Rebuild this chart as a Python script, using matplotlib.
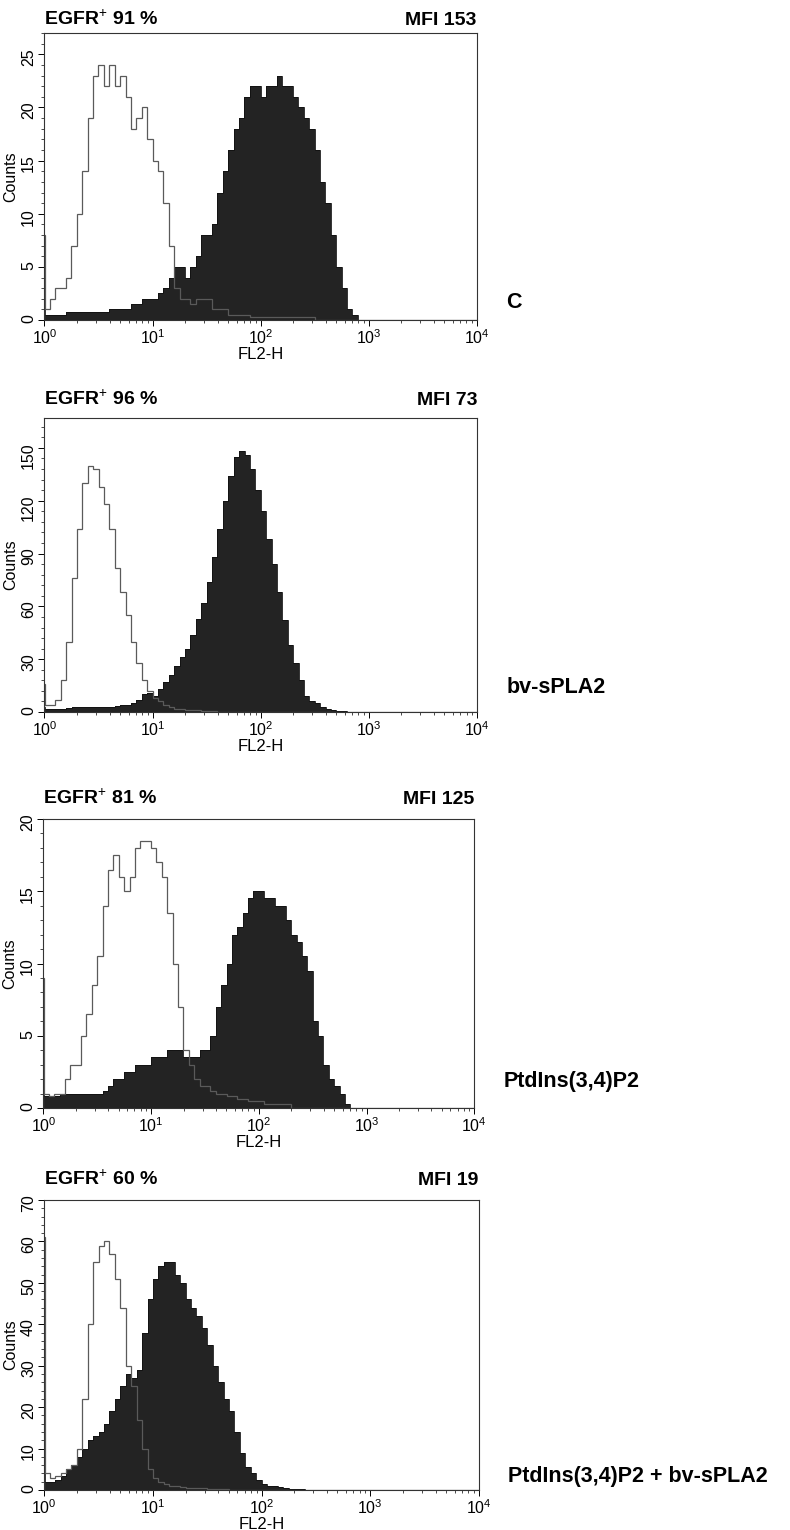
import numpy as np
import matplotlib
matplotlib.use("Agg")
import matplotlib.pyplot as plt
from matplotlib.ticker import LogLocator, MultipleLocator, AutoMinorLocator, NullFormatter

plt.rcParams['font.family'] = ['Liberation Sans', 'DejaVu Sans']
plt.rcParams['mathtext.fontset'] = 'custom'
plt.rcParams['mathtext.rm'] = 'Liberation Sans'
plt.rcParams['mathtext.bf'] = 'Liberation Sans:bold'
plt.rcParams['mathtext.it'] = 'Liberation Sans:italic'

# histogram bins: 20 per decade of FL2-H, starting at 10^0
bin_w = 0.05
n_bins = 80

treatments = ['C', 'bv-sPLA2', 'PtdIns(3,4)P2', 'PtdIns(3,4)P2 + bv-sPLA2']
egfr_pct = [91, 96, 81, 60]
mfi = [153, 73, 125, 19]
y_top = [27, 167, 20, 70]
y_step = [5, 30, 5, 10]

# counts in the very first channel (spike on the left edge)
first_open = [8, 16, 9, 61]
first_filled = [1, 3, 1, 31]

# isotype control (open) and EGFR stain (filled)
p1_open = [1, 2, 3, 3, 4, 7, 10, 14, 19, 23,
           24, 22, 24, 22, 23, 21, 18, 19, 20, 17,
           15, 14, 11, 7, 3, 2, 2, 1.5, 2, 2,
           2, 1, 1, 1, 0.5, 0.5, 0.5, 0.5, 0.3, 0.3,
           0.3, 0.3, 0.3, 0.3, 0.3, 0.3, 0.3, 0.3, 0.3, 0.3]
p1_filled = [0.5, 0.5, 0.5, 0.5, 0.8, 0.8, 0.8, 0.8, 0.8, 0.8,
             0.8, 0.8, 1, 1, 1, 1, 1.5, 1.5, 2, 2,
             2, 2.5, 3, 4, 5, 5, 4, 5, 6, 8,
             8, 9, 12, 14, 16, 18, 19, 21, 22, 22,
             21, 22, 22, 23, 22, 22, 21, 20, 19, 18,
             16, 13, 11, 8, 5, 3, 1, 0.5]

p2_open = [4, 4, 7, 18, 40, 76, 104, 130, 140, 138,
           128, 118, 104, 82, 68, 55, 40, 28, 18, 12,
           8, 6, 4, 3, 2, 2, 1, 1, 1, 0.5,
           0.5, 0.5]
p2_filled = [2, 2, 2, 2, 2.5, 3, 3, 3, 3, 3,
             3, 3, 3, 3.5, 4, 4, 5, 7, 10, 11,
             9, 13, 17, 21, 26, 31, 36, 44, 53, 62,
             74, 88, 104, 120, 134, 145, 148, 146, 138, 126,
             114, 98, 84, 68, 52, 38, 28, 18, 9, 6,
             5, 3, 2, 1, 0.5, 0.5]

p3_open = [1, 0.8, 1, 1, 2, 3, 3, 5, 6.5, 8.5,
           10.5, 14, 16.5, 17.5, 16, 15, 16, 18, 18.5, 18.5,
           18, 17, 16, 13.5, 10, 7, 4, 3, 2, 1.5,
           1.5, 1.2, 1, 1, 0.8, 0.8, 0.6, 0.6, 0.5, 0.5,
           0.5, 0.3, 0.3, 0.3, 0.3, 0.3]
p3_filled = [0.8, 0.8, 0.8, 1, 1, 1, 1, 1, 1, 1,
             1, 1.2, 1.5, 2, 2, 2.5, 2.5, 3, 3, 3,
             3.5, 3.5, 3.5, 4, 4, 4, 3.5, 3.5, 3.5, 4,
             4, 5, 7, 8.5, 10, 12, 12.5, 13.5, 14.5, 15,
             15, 14.5, 14.5, 14, 14, 13, 12, 11.5, 10.5, 9.5,
             6, 5, 3, 2, 1.5, 1, 0.3]

p4_open = [4, 3, 3.5, 4, 5, 6, 10, 22, 40, 55,
           59, 60, 57, 51, 44, 30, 25, 17, 10, 5,
           3, 2, 1.5, 1, 1, 0.8, 0.5, 0.5, 0.5, 0.5,
           0.3, 0.3, 0.3, 0.3]
p4_filled = [2, 2, 2.5, 3.5, 5, 6, 8, 10, 12, 13,
             14, 16, 19, 22, 25, 28, 27, 29, 38, 46,
             51, 54, 55, 55, 52, 50, 46, 44, 42, 39,
             35, 30, 26, 22, 19, 14, 9, 5.5, 4, 2.5,
             1.5, 1, 1, 0.7, 0.5, 0.3, 0.3, 0.3]

open_series = [p1_open, p2_open, p3_open, p4_open]
filled_series = [p1_filled, p2_filled, p3_filled, p4_filled]

# axes rectangles in figure fraction
rects = [(0.0563, 0.7908, 0.547, 0.1876),
         (0.0563, 0.5346, 0.5475, 0.1922),
         (0.0549, 0.2758, 0.5455, 0.1889),
         (0.0561, 0.0261, 0.5500, 0.1896)]
head_off = [6, 9.5, 11, 11]     # points above the axes
label_off = [13, 18, 19, 10]    # points above the axes bottom

edges = 10 ** np.r_[0, 0.006, bin_w * np.arange(1, n_bins + 1)]


def counts(first, vals):
    v = np.zeros(n_bins)
    v[:len(vals)] = vals
    return np.r_[first, v]


fig = plt.figure(figsize=(7.9, 15.3), dpi=100)

for i in range(4):
    ax = fig.add_axes(rects[i])
    filled = counts(first_filled[i], filled_series[i])
    opened = counts(first_open[i], open_series[i])

    ax.stairs(filled, edges, fill=True, color='#232323', lw=0)
    ax.stairs(filled, edges, color='#111111', lw=0.6)
    ax.stairs(opened, edges, color='#5a5a5a', lw=0.9)

    ax.set_xscale('log')
    ax.set_xlim(1, 1e4)
    ax.set_ylim(0, y_top[i])
    ax.xaxis.set_major_locator(LogLocator(base=10, numticks=10))
    ax.xaxis.set_minor_locator(LogLocator(base=10, subs=np.arange(2, 10), numticks=10))
    ax.xaxis.set_minor_formatter(NullFormatter())
    ax.yaxis.set_major_locator(MultipleLocator(y_step[i]))
    ax.yaxis.set_minor_locator(AutoMinorLocator(5))

    ax.tick_params(which='major', direction='out', length=4, width=0.7, labelsize=11.5, pad=2)
    ax.tick_params(which='minor', direction='out', length=2, width=0.5)
    ax.tick_params(axis='y', labelrotation=90)
    for s in ax.spines.values():
        s.set_linewidth(0.8)
        s.set_color('#333333')

    ax.set_ylabel('Counts', fontsize=11.5, labelpad=2)
    ax.set_xlabel('FL2-H', fontsize=12, labelpad=0)

    ax.annotate(f'EGFR$^{{+}}$ {egfr_pct[i]} %', xy=(0, 1), xycoords='axes fraction',
                xytext=(0, head_off[i]), textcoords='offset points', ha='left', va='baseline',
                fontsize=14, fontweight='bold')
    ax.annotate(f'MFI {mfi[i]}', xy=(1, 1), xycoords='axes fraction',
                xytext=(0, head_off[i]), textcoords='offset points', ha='right', va='baseline',
                fontsize=14, fontweight='bold')
    ax.annotate(treatments[i], xy=(1, 0), xycoords='axes fraction',
                xytext=(21, label_off[i]), textcoords='offset points', ha='left', va='center',
                fontsize=15.5, fontweight='bold')

fig.savefig('out.png', dpi=100)
